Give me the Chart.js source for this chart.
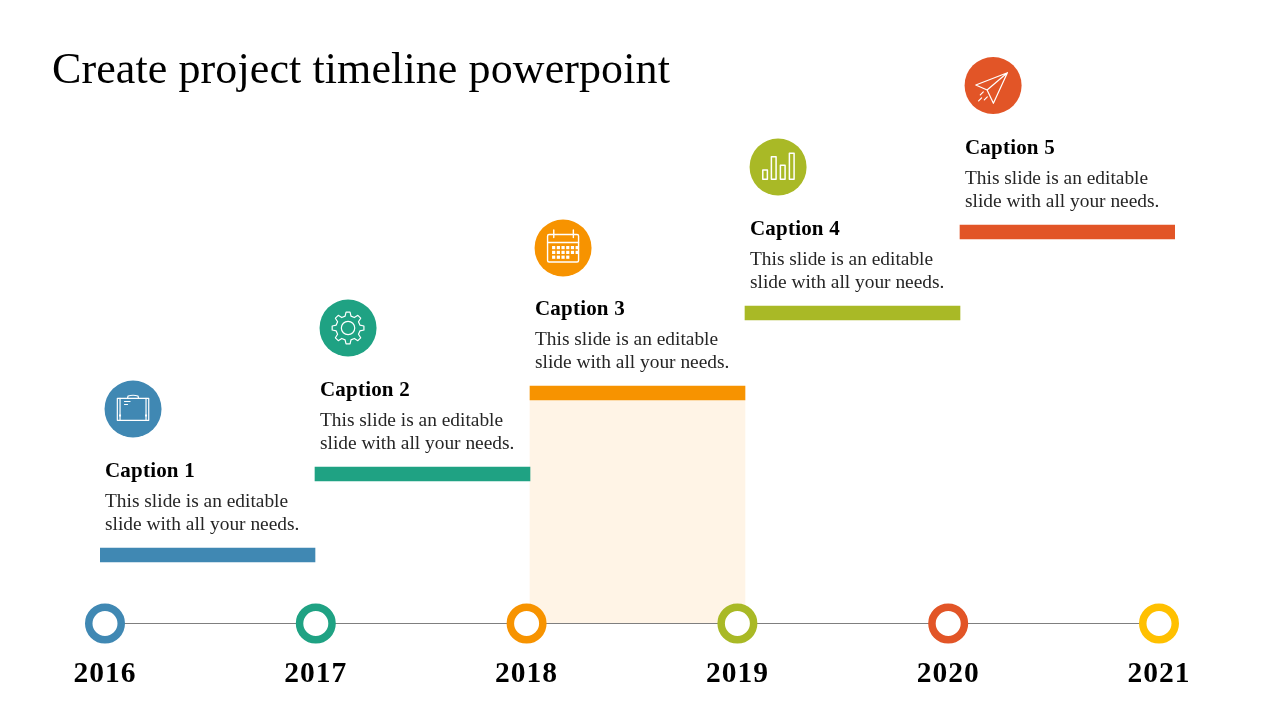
<!DOCTYPE html>
<html><head><meta charset="utf-8">
<style>html,body{margin:0;padding:0;background:#fff}canvas{display:block}</style>
<script src="https://cdn.jsdelivr.net/npm/chart.js@4"></script>
</head><body><canvas id="c" width="1280" height="720"></canvas>
<script>
const titleText = "Create project timeline powerpoint";
const years = [2016, 2017, 2018, 2019, 2020, 2021];
const captions = ["Caption 1", "Caption 2", "Caption 3", "Caption 4", "Caption 5"];
const bodyLines = ["This slide is an editable", "slide with all your needs."];
const stepLow = [61, 142, 223, 303, 384];
const stepHigh = [75, 156, 237, 317, 398];
const highlight = [null, null, [0, 223], null, null];
const iconX = [2016.133, 2017.153, 2018.173, 2019.193, 2020.213];
const iconY = [214, 295, 375, 456, 537.5];
const yearBaseline = [-0.5, -0.5, -0.5, -0.5, -0.5, -0.5];

const stepColors = ["#4088B3", "#1FA283", "#F79300", "#A9B926", "#E25527"];
const ringColors = ["#4088B3", "#1FA283", "#F79300", "#A9B926", "#E25527", "#FFC000"];
const SERIF = '"Liberation Serif", serif';

function glyphs(ctx, i, x, y) {
  ctx.save();
  ctx.translate(x, y);
  ctx.strokeStyle = "#fff"; ctx.fillStyle = "#fff"; ctx.lineWidth = 1.2;
  ctx.lineJoin = "round"; ctx.lineCap = "round";
  const L = (a, b, c, d) => { ctx.beginPath(); ctx.moveTo(a, b); ctx.lineTo(c, d); ctx.stroke(); };
  if (i === 0) {
    ctx.strokeRect(-15.7, -10.7, 31.4, 22);
    L(-13, -10.7, -13, 11.3); L(13, -10.7, 13, 11.3);
    ctx.beginPath(); ctx.moveTo(-5.5, -10.7); ctx.lineTo(-5, -13); ctx.quadraticCurveTo(0, -14.5, 5, -13); ctx.lineTo(5.5, -10.7); ctx.stroke();
    L(-8.5, -7.5, -3, -7.5); L(-8.5, -4.5, -5.5, -4.5);
    ctx.fillRect(-14, 5.5, 2, 2); ctx.fillRect(12, 5.5, 2, 2);
  } else if (i === 1) {
    ctx.beginPath();
    const n = 8;
    for (let k = 0; k < n; k++) {
      const a = k / n * Math.PI * 2 - Math.PI / 2, s = Math.PI / n;
      const pts = [[12.2, a - s * 0.62], [16, a - s * 0.32], [16, a + s * 0.32], [12.2, a + s * 0.62]];
      pts.forEach(([r, t], j) => {
        const px = r * Math.cos(t), py = r * Math.sin(t);
        (k === 0 && j === 0) ? ctx.moveTo(px, py) : ctx.lineTo(px, py);
      });
    }
    ctx.closePath(); ctx.stroke();
    ctx.beginPath(); ctx.arc(0, 0, 6.7, 0, Math.PI * 2); ctx.stroke();
  } else if (i === 2) {
    ctx.lineWidth = 1.4;
    ctx.beginPath(); ctx.roundRect(-15.5, -13.5, 31, 27.5, 1.5); ctx.stroke();
    L(-15.5, -5.5, 15.5, -5.5);
    L(-9.3, -18, -9.3, -10.5); L(10.3, -18, 10.3, -10.5);
    const counts = [6, 6, 4];
    counts.forEach((c, r) => {
      for (let k = 0; k < c; k++) ctx.fillRect(-11 + k * 4.7, -2 + r * 4.8, 3.2, 3.2);
    });
  } else if (i === 3) {
    ctx.lineWidth = 1.5;
    [[-15.3, 3, 4.6, 9.3], [-6.7, -10.3, 4.7, 22.6], [2.3, -1.7, 4.7, 14], [11.3, -13.7, 4.7, 26]]
      .forEach(r => ctx.strokeRect(r[0], r[1], r[2], r[3]));
  } else {
    ctx.beginPath();
    ctx.moveTo(14.3, -12.8); ctx.lineTo(-17.3, -0.5); ctx.lineTo(-6, 4.5); ctx.lineTo(14.3, -12.8);
    ctx.lineTo(0.3, 17.8); ctx.lineTo(-6, 4.5); ctx.stroke();
    L(-9.8, 6.3, -12.8, 9.3); L(-11.5, 12.3, -14.5, 15.3); L(-5.8, 11.3, -8.8, 14.3);
  }
  ctx.restore();
}

const overlay = {
  id: "overlay",
  beforeDraw(chart) { chart.ctx.letterSpacing = "1px"; },
  afterDraw(chart) {
    const ctx = chart.ctx, xc = chart.scales.cat, y = chart.scales.y;
    const iconMeta = chart.getDatasetMeta(3);
    iconMeta.data.forEach((pt, i) => glyphs(ctx, i, pt.x, pt.y));
    ctx.save();
    ctx.textBaseline = "alphabetic"; ctx.textAlign = "left";
    ctx.fillStyle = "#000";
    ctx.font = "44px " + SERIF; ctx.letterSpacing = "0.1px";
    ctx.fillText(titleText, 52, 83);
    captions.forEach((cap, i) => {
      const left = xc.getPixelForValue(i) - xc.width / 10 + 5;
      const top = y.getPixelForValue(stepHigh[i]);
      ctx.fillStyle = "#000";
      ctx.font = "bold 21px " + SERIF; ctx.letterSpacing = "0.2px";
      ctx.fillText(cap, left, top - 71);
      ctx.fillStyle = "#262626";
      ctx.font = "19.4px " + SERIF; ctx.letterSpacing = "0px";
      bodyLines.forEach((t, k) => ctx.fillText(t, left, top - 41 + k * 23));
    });
    ctx.restore();
  }
};

new Chart(document.getElementById("c"), {
  data: {
    datasets: [
      { type: "bar", xAxisID: "cat", yAxisID: "y", order: 4, grouped: false,
        data: highlight, backgroundColor: "#FFF4E6", barPercentage: 1, categoryPercentage: 1 },
      { type: "bar", xAxisID: "cat", yAxisID: "y", order: 3, grouped: false,
        data: stepLow.map((v, i) => [v, stepHigh[i]]), backgroundColor: stepColors,
        barPercentage: 1, categoryPercentage: 1 },
      { type: "line", xAxisID: "x", yAxisID: "y", order: 2, clip: false,
        data: years.map((v, i) => ({ x: v, y: yearBaseline[i] })),
        borderColor: "#7F7F7F", borderWidth: 1, tension: 0,
        pointRadius: 16.25, pointHoverRadius: 16.25, pointBorderWidth: 7.5,
        pointBorderColor: ringColors, pointBackgroundColor: "#fff" },
      { type: "scatter", xAxisID: "x", yAxisID: "y", order: 1, clip: false,
        data: iconX.map((v, i) => ({ x: v, y: iconY[i] })),
        pointRadius: 28.5, pointHoverRadius: 28.5, pointBorderWidth: 0,
        pointBackgroundColor: stepColors }
    ]
  },
  options: {
    responsive: false, animation: false, events: [],
    layout: { autoPadding: false, padding: { left: 100, right: 105, top: 0, bottom: 0 } },
    plugins: { legend: { display: false }, title: { display: false }, tooltip: { enabled: false } },
    scales: {
      cat: { type: "category", labels: captions, position: "bottom", display: false, offset: true, grid: { display: false } },
      x: { type: "linear", position: "bottom", min: 2015.9763, max: 2021.0759,
        grid: { display: false, drawTicks: false }, border: { display: false },
        afterBuildTicks: a => { a.ticks = years.map(v => ({ value: v })); },
        afterFit: a => { a.height = 97; },
        ticks: { autoSkip: false, maxRotation: 0, minRotation: 0, padding: 34, color: "#000",
          font: { family: SERIF, size: 29.5, weight: "bold" }, callback: v => String(v) } },
      y: { type: "linear", display: false, min: 0, max: 623, grid: { display: false } }
    }
  },
  plugins: [overlay]
});
</script></body></html>
